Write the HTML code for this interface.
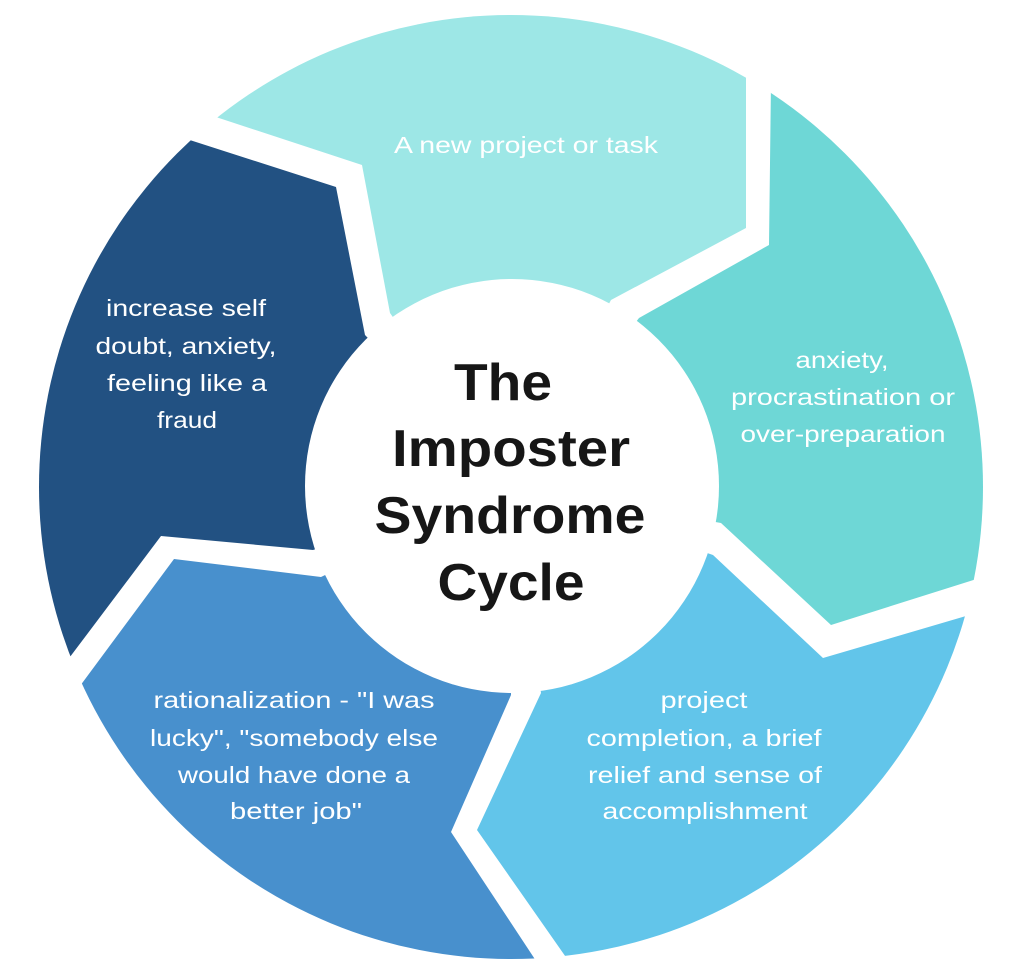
<!DOCTYPE html>
<html><head><meta charset="utf-8"><style>
html,body{margin:0;padding:0;background:#fff;width:1024px;height:973px;overflow:hidden;position:relative;}
svg{display:block;position:absolute;left:0;top:0;}
.t{font-family:"Liberation Sans Narrow","Liberation Sans",sans-serif;font-size:23px;fill:#fff;text-anchor:middle;}
.h{font-family:"Liberation Sans",sans-serif;font-weight:bold;font-size:52px;fill:#161616;text-anchor:middle;}
</style></head><body>
<svg width="1024" height="973" viewBox="0 0 1024 973" xmlns="http://www.w3.org/2000/svg">
<defs><clipPath id="c"><circle cx="511" cy="487" r="472"/></clipPath></defs>
<g clip-path="url(#c)">
<polygon fill="#9de7e6" points="100,79 100,0 746,0 746,228 611,300 512,486 390,313 362,165"/>
<polygon fill="#6ed7d6" points="772,0 1024,0 1024,564 831,625 721,523 512,486 639,318 769,245"/>
<polygon fill="#62c5ea" points="512,486 713,555 823,658 1024,599 1024,973 577,973 477,830 541,693"/>
<polygon fill="#4890cd" points="512,486 321,577 174,559 0,794 0,973 544,973 451,832 511,695"/>
<polygon fill="#225182" points="512,486 365,335 336,187 0,79 0,750 161,536 313,550"/>
</g>
<circle cx="512" cy="486" r="207" fill="#fff"/>
<text class="t" x="526" y="153" textLength="264" lengthAdjust="spacingAndGlyphs">A new project or task</text>
<text class="t" x="186" y="316" textLength="160" lengthAdjust="spacingAndGlyphs">increase self</text>
<text class="t" x="186" y="354" textLength="181" lengthAdjust="spacingAndGlyphs">doubt, anxiety,</text>
<text class="t" x="187" y="391" textLength="160" lengthAdjust="spacingAndGlyphs">feeling like a</text>
<text class="t" x="187" y="428" textLength="60" lengthAdjust="spacingAndGlyphs">fraud</text>
<text class="t" x="842" y="368" textLength="93" lengthAdjust="spacingAndGlyphs">anxiety,</text>
<text class="t" x="843" y="405" textLength="224" lengthAdjust="spacingAndGlyphs">procrastination or</text>
<text class="t" x="843" y="442" textLength="205" lengthAdjust="spacingAndGlyphs">over-preparation</text>
<text class="t" x="294" y="708" textLength="281" lengthAdjust="spacingAndGlyphs">rationalization - "I was</text>
<text class="t" x="294" y="746" textLength="288" lengthAdjust="spacingAndGlyphs">lucky", "somebody else</text>
<text class="t" x="294" y="783" textLength="232" lengthAdjust="spacingAndGlyphs">would have done a</text>
<text class="t" x="296" y="819" textLength="132" lengthAdjust="spacingAndGlyphs">better job"</text>
<text class="t" x="704" y="708" textLength="87" lengthAdjust="spacingAndGlyphs">project</text>
<text class="t" x="704" y="746" textLength="235" lengthAdjust="spacingAndGlyphs">completion, a brief</text>
<text class="t" x="705" y="783" textLength="234" lengthAdjust="spacingAndGlyphs">relief and sense of</text>
<text class="t" x="705" y="819" textLength="205" lengthAdjust="spacingAndGlyphs">accomplishment</text>
<text class="h" x="503" y="400" textLength="98" lengthAdjust="spacingAndGlyphs">The</text>
<text class="h" x="511" y="466" textLength="238" lengthAdjust="spacingAndGlyphs">Imposter</text>
<text class="h" x="510" y="533" textLength="271" lengthAdjust="spacingAndGlyphs">Syndrome</text>
<text class="h" x="511" y="600" textLength="147" lengthAdjust="spacingAndGlyphs">Cycle</text>
</svg>
</body></html>
